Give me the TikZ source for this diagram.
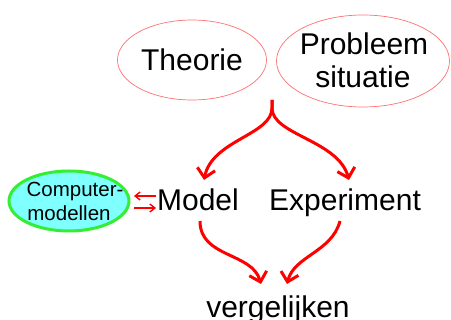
\documentclass[tikz,border=0pt]{standalone}
\usepackage{fontspec}
\setmainfont{Liberation Sans}
\usetikzlibrary{arrows.meta,shapes.geometric}
\definecolor{ellred}{HTML}{FF7070}
\definecolor{arrred}{HTML}{FF0000}
\definecolor{cmfill}{HTML}{80FFFF}
\definecolor{cmline}{HTML}{33EE33}
\tikzset{
  topell/.style={ellipse, draw=ellred, line width=0.7pt, inner sep=0pt},
  lbl/.style={font=\fontsize{30}{33}\selectfont, inner sep=0pt, anchor=base},
  bigarrow/.style={draw=arrred, line width=3pt, -{Straight Barb[length=9pt,width=18pt,line width=3pt]}},
  smallarrow/.style={draw=arrred, line width=1.4pt, -{Straight Barb[length=5pt,width=8pt]}}
}
\begin{document}
\begin{tikzpicture}[x=1pt,y=-1pt]
\useasboundingbox (0,0) rectangle (451,320);
% top ellipses
\node[topell, minimum width=149pt, minimum height=80pt] (theorie) at (192,60) {};
\node[lbl] at (192,71) {Theorie};
\node[topell, minimum width=173pt, minimum height=92pt] (probleem) at (363,61) {};
\node[lbl] at (364,55) {Probleem};
\node[lbl] at (363,88) {situatie};
% computer model ellipse
\node[ellipse, draw=cmline, fill=cmfill, line width=3pt, minimum width=120pt, minimum height=60pt, inner sep=0pt] (cm) at (69,201) {};
\node[font=\fontsize{20.5}{22}\selectfont, inner sep=0pt, anchor=base] at (75,197) {Computer-};
\node[font=\fontsize{20.5}{22}\selectfont, inner sep=0pt, anchor=base] at (69,221) {modellen};
% middle texts
\node[lbl] (model) at (198,211) {Model};
\node[lbl] (experiment) at (345,211) {Experiment};
\node[lbl] (verg) at (278,318) {vergelijken};
% connectors
\coordinate (split) at (272,100);
\coordinate (mtop) at (204,180);
\coordinate (etop) at (349,180);
\coordinate (mbot) at (200,221);
\coordinate (ebot) at (340,221);
\coordinate (vl) at (261,284);
\coordinate (vr) at (287,284);
\draw[bigarrow] (split) -- ++(0,8) .. controls (272,135) and (212,140) .. (mtop);
\draw[bigarrow] (split) -- ++(0,8) .. controls (272,135) and (338,140) .. (etop);
\draw[bigarrow] (mbot) .. controls (200,258) and (252,252) .. (vl);
\draw[bigarrow] (ebot) .. controls (332,252) and (294,256) .. (vr);
\coordinate (sa1) at (156,196);
\coordinate (sa2) at (134,196);
\coordinate (sb1) at (134,208);
\coordinate (sb2) at (156,208);
\draw[smallarrow] (sa1) -- (sa2);
\draw[smallarrow] (sb1) -- (sb2);
\end{tikzpicture}
\end{document}
